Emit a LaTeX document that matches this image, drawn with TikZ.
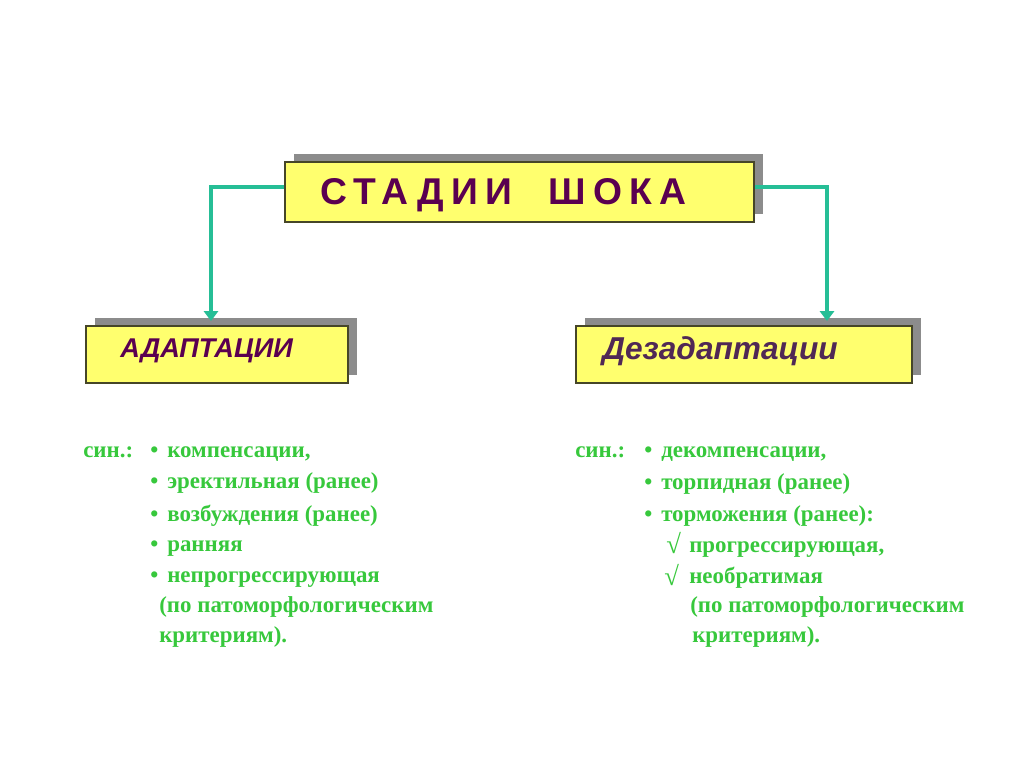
\documentclass[tikz,border=0pt]{standalone}
\usepackage{fontspec}
\setmainfont{Liberation Serif}
\setsansfont{Liberation Sans}
\newfontfamily\titlefont[LetterSpace=20]{Liberation Sans}
\usepackage{xcolor}
\usetikzlibrary{positioning, arrows.meta, shadows}

\definecolor{boxyellow}{RGB}{255,255,110}
\definecolor{boxedge}{RGB}{70,70,40}
\definecolor{boxshade}{RGB}{140,140,140}
\definecolor{plum}{RGB}{90,0,80}
\definecolor{plumsoft}{RGB}{80,40,85}
\definecolor{leaf}{RGB}{55,200,60}
\definecolor{seagreen}{RGB}{38,190,150}

\tikzset{
  stagebox/.style={draw=boxedge, line width=1pt, fill=boxyellow,
    general shadow={fill=boxshade, shadow xshift=0.225cm, shadow yshift=0.2cm}},
  stagetext/.style={anchor=base west, inner sep=0pt, text=plum},
  link/.style={draw=seagreen, line width=2.2pt, -{Triangle[width=10pt,length=7pt]}},
  item/.style={anchor=base west, inner sep=0pt, text=leaf,
    font=\fontsize{16.3}{18}\selectfont\bfseries},
  tick/.style={item, font=\fontsize{19}{20}\selectfont\bfseries},
}

\begin{document}
\begin{tikzpicture}[x=0.025cm, y=-0.025cm]
\useasboundingbox (0,0) rectangle (1024,767);

% boxes
\node[stagebox, minimum width=11.725cm, minimum height=1.5cm] (stages) at (519.5,192) {};
\node[stagetext, font=\titlefont\bfseries\fontsize{26.5}{30}\selectfont] (stagestext) at (320,205) {СТАДИИ\hspace{0.9cm}ШОКА};

\node[stagebox, minimum width=6.55cm, minimum height=1.425cm] (adaptbox) at (217,354.5) {};
\node[stagetext, font=\sffamily\bfseries\itshape\fontsize{19.3}{21}\selectfont] (adapt) at (120,357) {АДАПТАЦИИ};

\node[stagebox, minimum width=8.4cm, minimum height=1.425cm] (dezbox) at (744,354.5) {};
\node[stagetext, text=plumsoft, font=\sffamily\bfseries\itshape\fontsize{22.5}{26}\selectfont] (dezadapt) at (602,359) {Дезадаптации};

% arrows
\coordinate (adapttip) at (211,321);
\coordinate (deztip) at (827,321);
\draw[link] ([yshift=0.125cm]stages.west) -| (adapttip);
\draw[link] ([yshift=0.125cm]stages.east) -| (deztip);

% left list
\node[item] (adaptsyn) at (83,457) {син.:};
\foreach \y/\txt [count=\i] in {457/{компенсации,}, 488/{эректильная (ранее)},
    521/{возбуждения (ранее)}, 551/{ранняя}, 582/{непрогрессирующая}} {
  \node[item] (adaptdot\i) at (150,\y) {•};
  \node[item] (adaptitem\i) at (167,\y) {\txt};
}
\node[item] (adaptnote1) at (159,612) {(по патоморфологическим};
\node[item] (adaptnote2) at (159,642) {критериям).};

% right list
\node[item] (dezsyn) at (575,457) {син.:};
\foreach \y/\txt [count=\i] in {457/{декомпенсации,}, 489/{торпидная (ранее)},
    521/{торможения (ранее):}} {
  \node[item] (dezdot\i) at (644,\y) {•};
  \node[item] (dezitem\i) at (661,\y) {\txt};
}
\node[tick] (dezcheck1) at (666,553) {√};
\node[item] (dezsub1) at (689,552) {прогрессирующая,};
\node[tick] (dezcheck2) at (664,585) {√};
\node[item] (dezsub2) at (689,583) {необратимая};
\node[item] (deznote1) at (690,612) {(по патоморфологическим};
\node[item] (deznote2) at (692,642) {критериям).};
\end{tikzpicture}
\end{document}
